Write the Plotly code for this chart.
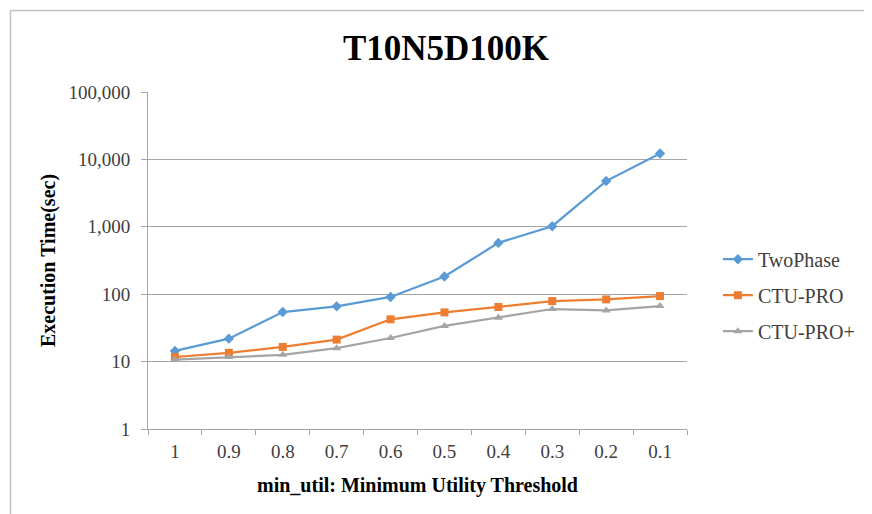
import plotly.graph_objects as go

categories = ["1", "0.9", "0.8", "0.7", "0.6", "0.5", "0.4", "0.3", "0.2", "0.1"]
two_phase = [14.4, 21.9, 54.4, 66, 91, 183, 577, 1020, 4770, 12240]
ctu_pro = [11.7, 13.5, 16.5, 21.2, 42.4, 53.8, 64.6, 79.1, 83.7, 93.8]
ctu_pro_plus = [10.7, 11.7, 12.6, 15.8, 22.4, 33.8, 44.9, 60.3, 57.5, 66.7]
y_tickvals = [1, 10, 100, 1000, 10000, 100000]
y_ticktext = ["1", "10", "100", "1,000", "10,000", "100,000"]

SERIF = "Liberation Serif, Times New Roman, serif"
OFF = 8  # page body margin
W, H = 872 - OFF, 514 - OFF
L, R, T, B = 148 - OFF, 689 - OFF, 91.5 - OFF, 429 - OFF

fig = go.Figure()
fig.add_trace(go.Scatter(x=categories, y=two_phase, name="TwoPhase", mode="lines+markers",
                         legendgroup="a",
                         line=dict(color="#5B9BD5", width=2.25),
                         marker=dict(symbol="diamond", size=8, color="#5B9BD5")))
fig.add_trace(go.Scatter(x=categories, y=ctu_pro, name="CTU-PRO", mode="lines+markers",
                         legendgroup="b",
                         line=dict(color="#ED7D31", width=2.25),
                         marker=dict(symbol="square", size=8, color="#ED7D31")))
fig.add_trace(go.Scatter(x=categories, y=ctu_pro_plus, name="CTU-PRO+", mode="lines+markers",
                         legendgroup="c",
                         line=dict(color="#A5A5A5", width=2.25),
                         marker=dict(symbol="triangle-up", size=8, color="#A5A5A5")))

pw, ph = R - L, B - T
def px(x):
    return (x - OFF - L) / pw
def py(y):
    return (B - (y - OFF)) / ph

fig.update_layout(
    width=W, height=H,
    margin=dict(l=L, r=W - R, t=T, b=H - B),
    paper_bgcolor="white", plot_bgcolor="white",
    font=dict(family=SERIF, color="#000000", size=14),
    title=dict(text="<b>T10N5D100K</b>", xref="container", x=(446 - OFF) / W, xanchor="center",
               yref="container", y=1 - (48 - OFF) / H, yanchor="middle",
               font=dict(family=SERIF, size=35, color="#000000")),
    xaxis=dict(type="category", range=[-0.5, 9.5], showgrid=False,
               showline=True, linecolor="#A6A6A6", linewidth=1,
               ticks="outside", tickson="boundaries", ticklen=5, tickcolor="#A6A6A6",
               ticklabelstandoff=5,
               tickfont=dict(family=SERIF, size=19, color="#404040"),
               title=dict(text="<b>min_util: Minimum Utility Threshold</b>", standoff=17,
                          font=dict(family=SERIF, size=20, color="#000000"))),
    yaxis=dict(type="log", range=[0, 5], tickvals=y_tickvals, ticktext=y_ticktext,
               showgrid=True, gridcolor="#A6A6A6", gridwidth=1,
               showline=True, linecolor="#A6A6A6", linewidth=1,
               ticks="outside", ticklen=6, tickcolor="#A6A6A6",
               ticklabelstandoff=7,
               tickfont=dict(family=SERIF, size=19, color="#404040"),
               title=dict(text="<b>Execution Time(sec)</b>", standoff=7,
                          font=dict(family=SERIF, size=20, color="#000000"))),
    legend=dict(x=px(720), xanchor="left", y=py(295), yanchor="middle",
                traceorder="grouped",
                font=dict(family=SERIF, size=20, color="#404040"),
                bgcolor="rgba(0,0,0,0)", tracegroupgap=7),
    showlegend=True,
)

# chart area border (top and left edges visible)
fig.add_shape(type="line", xref="paper", yref="paper", x0=px(10), x1=px(W + 20), y0=py(10), y1=py(10),
              line=dict(color="#BFBFBF", width=1.5))
fig.add_shape(type="line", xref="paper", yref="paper", x0=px(10), x1=px(10), y0=py(10), y1=py(H + 20),
              line=dict(color="#BFBFBF", width=1.5))

fig.write_html("out.html")
